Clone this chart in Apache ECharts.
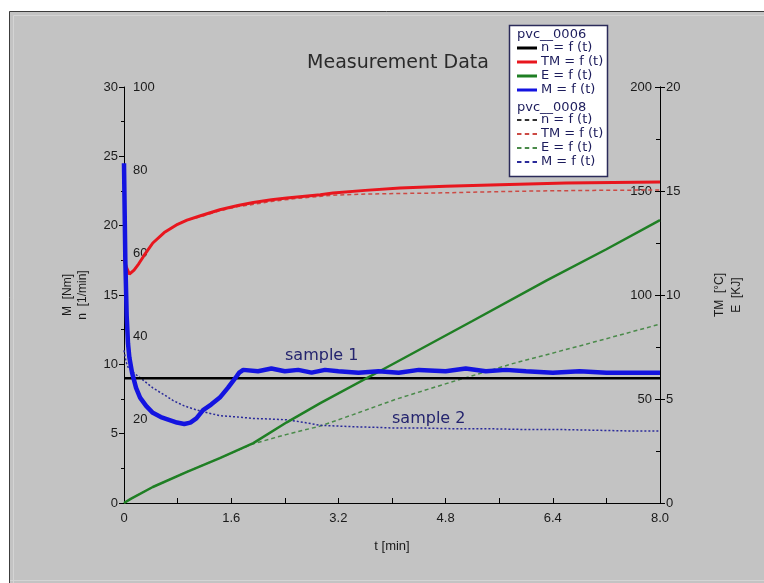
<!DOCTYPE html>
<html>
<head>
<meta charset="utf-8">
<title>Measurement Data</title>
<script src="https://cdn.jsdelivr.net/npm/echarts@6/dist/echarts.min.js"></script>
<style>
    html, body { margin: 0; padding: 0; background: #ffffff; }
    #chart { width: 764px; height: 583px; }
</style>
</head>
<body>
<div id="chart"></div>
<script>
// time ticks (min)
var timeTicks = [0, 1.6, 3.2, 4.8, 6.4, 8.0];

// pvc__0006 (sample 1)
var tN1 = [0, 8];
var n1 = [30, 30];
var tTM1 = [0, 0.04, 0.08, 0.15, 0.22, 0.3, 0.43, 0.6, 0.8, 0.94, 1.13, 1.43, 1.7, 1.93, 2.2, 2.43, 2.7, 2.93, 3.12, 3.6, 4.12, 4.8, 5.61, 6.6, 7.3, 8.0];
var TM1 = [117, 113, 110, 112, 115, 119, 125, 130, 134, 136, 138, 141, 143, 144.5, 145.8, 146.6, 147.5, 148.2, 149, 150.3, 151.4, 152.3, 153, 153.8, 154.1, 154.3];
var tE1 = [0, 0.1, 0.43, 0.94, 1.43, 1.93, 2.43, 2.93, 4.07, 5.2, 6.31, 7.2, 8.0];
var E1 = [0, 0.2, 0.77, 1.5, 2.16, 2.88, 3.88, 4.8, 6.78, 8.75, 10.7, 12.2, 13.6];
var tM1 = [0, 0.02, 0.04, 0.06, 0.08, 0.12, 0.18, 0.24, 0.33, 0.43, 0.55, 0.67, 0.79, 0.9, 0.99, 1.08, 1.18, 1.3, 1.43, 1.55, 1.66, 1.72, 1.78, 2.0, 2.2, 2.4, 2.6, 2.8, 3.0, 3.2, 3.5, 3.8, 4.1, 4.4, 4.8, 5.1, 5.4, 5.7, 6.0, 6.4, 6.8, 7.2, 7.6, 8.0];
var M1 = [24.5, 17.5, 13.5, 11.5, 10.5, 9.4, 8.3, 7.6, 7.0, 6.5, 6.2, 6.0, 5.8, 5.7, 5.8, 6.1, 6.7, 7.1, 7.6, 8.3, 9.0, 9.4, 9.6, 9.5, 9.7, 9.5, 9.6, 9.4, 9.6, 9.5, 9.4, 9.5, 9.4, 9.6, 9.5, 9.7, 9.5, 9.6, 9.5, 9.4, 9.5, 9.4, 9.4, 9.4];

// pvc__0008 (sample 2)
var tN2 = [0, 8];
var n2 = [30, 30];
var tTM2 = [0, 0.04, 0.08, 0.15, 0.22, 0.3, 0.43, 0.6, 0.8, 0.94, 1.13, 1.43, 1.7, 1.88, 2.2, 2.6, 3.12, 3.6, 4.1, 4.6, 5.3, 6.1, 7.0, 8.0];
var TM2 = [117, 113, 110, 112, 115, 119, 125, 130, 134, 136, 137.5, 140.5, 142.5, 143.3, 145, 146.5, 148, 148.5, 148.8, 149, 149.5, 150, 150.3, 150.5];
var tE2 = [0, 0.1, 0.43, 0.94, 1.43, 1.93, 2.43, 2.93, 3.42, 4.07, 4.82, 5.8, 6.8, 8.0];
var E2 = [0, 0.2, 0.77, 1.5, 2.16, 2.85, 3.3, 3.7, 4.25, 5.0, 5.75, 6.7, 7.55, 8.6];
var tM2 = [0, 0.03, 0.06, 0.1, 0.14, 0.25, 0.43, 0.6, 0.73, 0.9, 1.09, 1.25, 1.43, 1.7, 1.93, 2.2, 2.43, 2.7, 2.93, 3.2, 3.42, 3.8, 4.07, 4.5, 5.0, 5.5, 6.0, 6.5, 7.0, 7.5, 8.0];
var M2 = [11, 10.2, 9.8, 9.6, 9.4, 9.0, 8.3, 7.8, 7.4, 7.0, 6.7, 6.5, 6.3, 6.2, 6.1, 6.05, 6.0, 5.8, 5.6, 5.55, 5.5, 5.45, 5.4, 5.4, 5.35, 5.35, 5.3, 5.3, 5.25, 5.2, 5.2];

function pairs(t, v) {
    var out = [];
    for (var i = 0; i < t.length; i++) {
        out.push([t[i], v[i]]);
    }
    return out;
}

var axisFont = 'Liberation Sans, Arial, sans-serif';
var textFont = 'DejaVu Sans, sans-serif';
var navy = '#1c1c5c';
var solidIcon = 'path://M0,0h20v3h-20z';
var dashIcon = 'path://M0,0h4v2h-4zM7,0h4v2h-4zM14,0h4v2h-4z';

function lineSeries(name, yIndex, data, color, width, type) {
    return {
        name: name,
        type: 'line',
        yAxisIndex: yIndex,
        data: data,
        showSymbol: false,
        symbol: 'none',
        animation: false,
        lineStyle: { color: color, width: width, type: type },
        itemStyle: { color: color }
    };
}

function legendItems(prefix, icon) {
    var labels = ['n = f (t)', 'TM = f (t)', 'E = f (t)', 'M = f (t)'];
    var items = [];
    for (var i = 0; i < labels.length; i++) {
        items.push({ name: prefix + ' ' + labels[i], icon: icon });
    }
    return items;
}

var chart = echarts.init(document.getElementById('chart'));

var legendText = { fontFamily: textFont, fontSize: 13, lineHeight: 14, color: navy, padding: [0, 0, 0, -1] };

var option = {
    backgroundColor: '#c3c3c3',
    animation: false,
    title: {
        text: 'Measurement Data',
        left: 393,
        top: 49,
        textAlign: 'center',
        textStyle: { fontFamily: textFont, fontSize: 19, fontWeight: 'normal', color: '#2a2a2a' }
    },
    legend: [
        {
            data: legendItems('pvc__0006', solidIcon),
            orient: 'vertical',
            left: 517,
            top: 41,
            padding: 0,
            itemGap: 0,
            itemWidth: 20,
            itemHeight: 14,
            formatter: function (name) { return name.replace(/^pvc__000\d /, ''); },
            textStyle: legendText
        },
        {
            data: legendItems('pvc__0008', dashIcon),
            orient: 'vertical',
            left: 517,
            top: 113,
            padding: 0,
            itemGap: 0,
            itemWidth: 20,
            itemHeight: 14,
            formatter: function (name) { return name.replace(/^pvc__000\d /, ''); },
            textStyle: legendText
        }
    ],
    grid: { left: 124, right: 104, top: 87, bottom: 80 },
    xAxis: {
        type: 'value',
        min: 0,
        max: 8,
        interval: 1.6,
        name: 't [min]',
        nameLocation: 'middle',
        nameGap: 37,
        nameTextStyle: { fontFamily: axisFont, fontSize: 13, color: '#1a1a1a' },
        axisLine: { lineStyle: { color: '#000', width: 1 } },
        axisTick: { inside: true, length: 5, lineStyle: { color: '#000' } },
        minorTick: { show: true, splitNumber: 2, length: 5, lineStyle: { color: '#000' } },
        splitLine: { show: false },
        axisLabel: {
            margin: 9,
            showMinLabel: true,
            showMaxLabel: true,
            fontFamily: axisFont,
            fontSize: 13,
            color: '#1a1a1a',
            formatter: function (v) {
                for (var i = 0; i < timeTicks.length; i++) {
                    if (Math.abs(timeTicks[i] - v) < 1e-6) {
                        return i === 0 ? '0' : timeTicks[i].toFixed(1);
                    }
                }
                return '';
            }
        }
    },
    yAxis: [
        {
            type: 'value', position: 'left', min: 0, max: 30, interval: 5,
            name: 'M  [Nm]', nameLocation: 'middle', nameGap: 50, nameRotate: 90,
            nameTextStyle: { fontFamily: axisFont, fontSize: 12, color: '#1a1a1a' },
            axisLine: { show: true, lineStyle: { color: '#000', width: 1 } },
            axisTick: { show: true, length: 5, lineStyle: { color: '#000' } },
            minorTick: { show: true, splitNumber: 2, length: 3, lineStyle: { color: '#000' } },
            splitLine: { show: false },
            axisLabel: { margin: 6, fontFamily: axisFont, fontSize: 13, color: '#1a1a1a', showMinLabel: true, showMaxLabel: true }
        },
        {
            type: 'value', position: 'left', min: 0, max: 100, interval: 20,
            name: 'n  [1/min]', nameLocation: 'middle', nameGap: 35, nameRotate: 90,
            nameTextStyle: { fontFamily: axisFont, fontSize: 12, color: '#1a1a1a' },
            axisLine: { show: false },
            axisTick: { show: false },
            splitLine: { show: false },
            axisLabel: {
                inside: true, margin: 9, fontFamily: axisFont, fontSize: 13, color: '#1a1a1a',
                showMaxLabel: true,
                formatter: function (v) { return v === 0 ? '' : v; }
            }
        },
        {
            type: 'value', position: 'right', min: 0, max: 200, interval: 50,
            name: 'TM  [°C]', nameLocation: 'middle', nameGap: 54, nameRotate: 90,
            nameTextStyle: { fontFamily: axisFont, fontSize: 12, color: '#1a1a1a' },
            axisLine: { show: true, lineStyle: { color: '#000', width: 1 } },
            axisTick: { show: true, inside: true, length: 5, lineStyle: { color: '#000' } },
            minorTick: { show: true, splitNumber: 2, length: 4, lineStyle: { color: '#000' } },
            splitLine: { show: false },
            axisLabel: {
                inside: true, margin: 8, fontFamily: axisFont, fontSize: 13, color: '#1a1a1a',
                showMaxLabel: true,
                formatter: function (v) { return v === 0 ? '' : v; }
            }
        },
        {
            type: 'value', position: 'right', min: 0, max: 20, interval: 5,
            name: 'E  [KJ]', nameLocation: 'middle', nameGap: 71, nameRotate: 90,
            nameTextStyle: { fontFamily: axisFont, fontSize: 12, color: '#1a1a1a' },
            axisLine: { show: true, lineStyle: { color: '#000', width: 1 } },
            axisTick: { show: true, length: 5, lineStyle: { color: '#000' } },
            splitLine: { show: false },
            axisLabel: { margin: 6, fontFamily: axisFont, fontSize: 13, color: '#1a1a1a', showMinLabel: true, showMaxLabel: true }
        }
    ],
    series: [
        // sample 2 first so it sits underneath
        lineSeries('pvc__0008 n = f (t)', 1, pairs(tN2, n2), '#303030', 1.5, [4, 3]),
        lineSeries('pvc__0008 TM = f (t)', 2, pairs(tTM2, TM2), '#cc4a44', 1.5, [4, 3]),
        lineSeries('pvc__0008 E = f (t)', 3, pairs(tE2, E2), '#4a8a4a', 1.5, [4, 3]),
        lineSeries('pvc__0008 M = f (t)', 0, pairs(tM2, M2), '#2a2a9a', 1.5, [2, 2]),
        lineSeries('pvc__0006 n = f (t)', 1, pairs(tN1, n1), '#000000', 2.5, 'solid'),
        lineSeries('pvc__0006 TM = f (t)', 2, pairs(tTM1, TM1), '#e8161e', 3, 'solid'),
        lineSeries('pvc__0006 E = f (t)', 3, pairs(tE1, E1), '#1f7f24', 2.5, 'solid'),
        lineSeries('pvc__0006 M = f (t)', 0, pairs(tM1, M1), '#1414e0', 4.5, 'solid')
    ],
    graphic: [
        // window frame
        { type: 'rect', silent: true, z: -10, shape: { x: 0, y: 0, width: 764, height: 11 }, style: { fill: '#ffffff' } },
        { type: 'rect', silent: true, z: -10, shape: { x: 0, y: 0, width: 9, height: 583 }, style: { fill: '#ffffff' } },
        { type: 'line', silent: true, z: -9, shape: { x1: 9.5, y1: 11.5, x2: 764, y2: 11.5 }, style: { stroke: '#3c3c3c', lineWidth: 1 } },
        { type: 'line', silent: true, z: -9, shape: { x1: 9.5, y1: 11.5, x2: 9.5, y2: 583 }, style: { stroke: '#3c3c3c', lineWidth: 1 } },
        { type: 'line', silent: true, z: -9, shape: { x1: 13.5, y1: 15.5, x2: 764, y2: 15.5 }, style: { stroke: '#d4d4d4', lineWidth: 1 } },
        { type: 'line', silent: true, z: -9, shape: { x1: 13.5, y1: 15.5, x2: 13.5, y2: 583 }, style: { stroke: '#d4d4d4', lineWidth: 1 } },
        { type: 'line', silent: true, z: -9, shape: { x1: 10, y1: 580.5, x2: 764, y2: 580.5 }, style: { stroke: '#d4d4d4', lineWidth: 1 } },
        // legend box and headers
        { type: 'rect', silent: true, z: 1, shape: { x: 509.5, y: 25.5, width: 98, height: 151 }, style: { fill: '#ffffff', stroke: '#2b2b5a', lineWidth: 1.5 } },
        { type: 'text', silent: true, z: 10, left: 517, top: 28, style: { text: 'pvc__0006', font: '13px DejaVu Sans', fill: navy } },
        { type: 'text', silent: true, z: 10, left: 517, top: 101, style: { text: 'pvc__0008', font: '13px DejaVu Sans', fill: navy } },
        // sample labels
        { type: 'text', silent: true, z: 10, left: 285, top: 348, style: { text: 'sample 1', font: '16px DejaVu Sans', fill: '#24246e' } },
        { type: 'text', silent: true, z: 10, left: 392, top: 411, style: { text: 'sample 2', font: '16px DejaVu Sans', fill: '#24246e' } }
    ]
};

chart.setOption(option);
</script>
</body>
</html>
